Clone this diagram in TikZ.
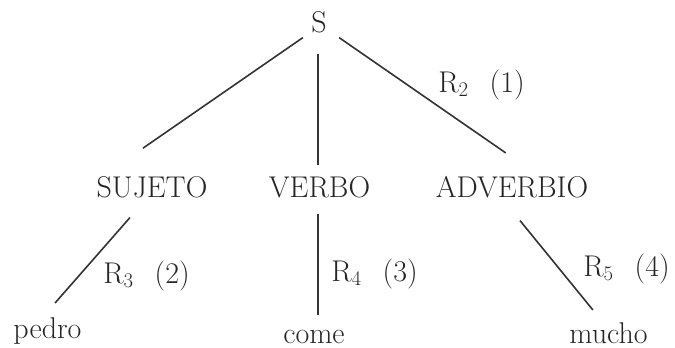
\documentclass[tikz,border=0pt]{standalone}
\usepackage{tikz}
\usetikzlibrary{positioning,calc}

\begin{document}
\begin{tikzpicture}[
  x=1pt, y=-1pt,
  font=\fontsize{30}{36}\selectfont,
  wrd/.style={anchor=base, inner sep=0pt, text=black!85},
  lbl/.style={anchor=base, inner sep=0pt, text=black!85},
  br/.style={line width=1.6pt, draw=black!80},
]
\useasboundingbox (0,0) rectangle (675,348);
\def\Top{32}\def\Mid{197}
% words
\node[wrd] (S) at (319,\Top) {S};
\node[wrd] (suj) at (152,\Mid) {SUJETO};
\node[wrd] (verb) at (319.5,\Mid) {VERBO};
\node[wrd] (adv) at (512,\Mid) {ADVERBIO};
\node[wrd] (pedro) at (47.5,338) {pedro};
\node[wrd] (come) at (314,343) {come};
\node[wrd] (mucho) at (608.5,343) {mucho};
% branches
\draw[br, shorten <=8.7pt, shorten >=48.6pt] ([xshift=-9pt]S.south) -- ([xshift=-49pt]suj.north);
\draw[br, shorten <=21pt, shorten >=11pt] ([xshift=-1pt]S.south) -- ([xshift=-1.5pt]verb.north);
\draw[br, shorten <=8.7pt, shorten >=39.8pt] ([xshift=13pt]S.south) -- ([xshift=26.5pt]adv.north);
\draw[br, shorten <=26.5pt, shorten >=18.6pt] ([xshift=-4.6pt]suj.south) -- ([xshift=-4.7pt]pedro.north);
\draw[br, shorten <=16pt, shorten >=15pt] ([xshift=-1.5pt]verb.south) -- ([xshift=-1.5pt]verb.south |- come.north);
\draw[br, shorten <=29.6pt, shorten >=15.5pt] ([xshift=-10.7pt]adv.south) -- ([xshift=-5.8pt]mucho.north);
% rule labels
\node[lbl] (r2) at (481.5,92) {R$_2$\hspace{0.7em}(1)};
\node[lbl] (r3) at (146.5,283) {R$_3$\hspace{0.7em}(2)};
\node[lbl] (r4) at (374.5,281) {R$_4$\hspace{0.7em}(3)};
\node[lbl] (r5) at (626.5,276) {R$_5$\hspace{0.7em}(4)};
\end{tikzpicture}
\end{document}
